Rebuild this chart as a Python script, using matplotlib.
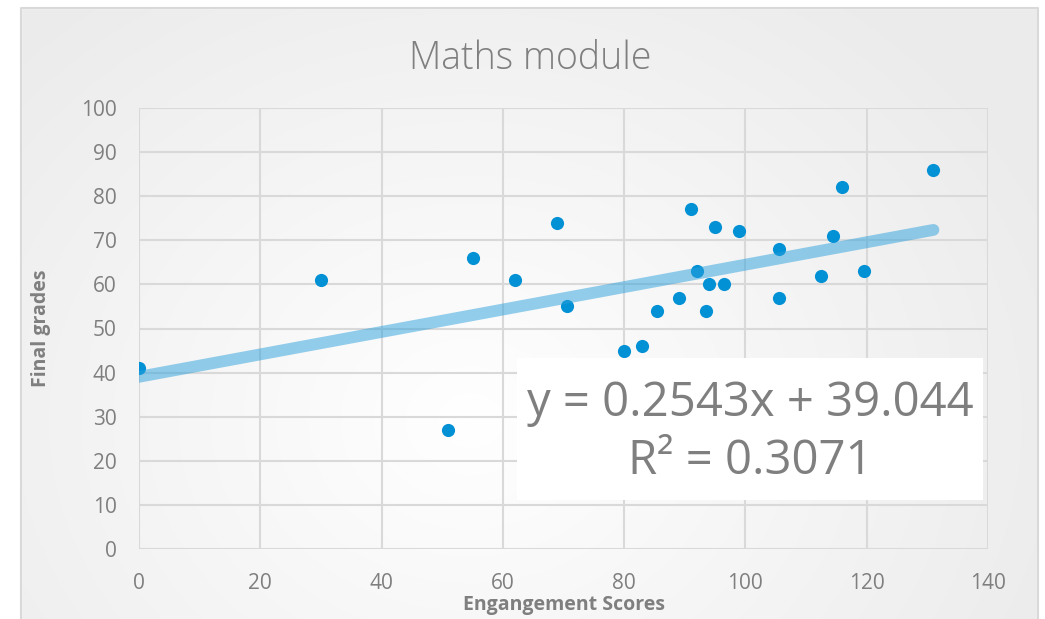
import numpy as np
import matplotlib
matplotlib.use("Agg")
import matplotlib.pyplot as plt
from matplotlib.patches import Rectangle

plt.rcParams['font.family'] = ['Open Sans', 'DejaVu Sans']

# data
engagement = [0, 30, 51, 55, 62, 69, 70.5, 80, 83, 85.5, 89, 91, 92, 93.5, 94, 95, 96.5, 99,
              105.5, 105.5, 112.5, 114.5, 116, 119.5, 131]
grades = [41, 61, 27, 66, 61, 74, 55, 45, 46, 54, 57, 77, 63, 54, 60, 73, 60, 72,
          68, 57, 62, 71, 82, 63, 86]
slope = 0.2543
intercept = 39.044
r_squared = 0.3071

title = "Maths module"
x_label = "Engangement Scores"
y_label = "Final grades"
x_ticks = [0, 20, 40, 60, 80, 100, 120, 140]
y_ticks = [0, 10, 20, 30, 40, 50, 60, 70, 80, 90, 100]

W, H = 1045, 619
grey_text = '#7f7f7f'
grid_col = '#d9d9d9'
dot_col = '#0391d5'

fig = plt.figure(figsize=(W / 100, H / 100), dpi=100)
fig.patch.set_facecolor('white')

# chart area background: soft radial gradient with thin border
bg = fig.add_axes([0, 0, 1, 1], zorder=-10)
bg.set_xlim(0, W)
bg.set_ylim(H, 0)
bg.axis('off')
yy, xx = np.mgrid[0:H, 0:W]
d = np.sqrt(((xx - 470) / 620.0) ** 2 + ((yy - 420) / 520.0) ** 2)
shade = 1.0 - 0.075 * np.clip(d, 0, 1)
img = np.dstack([shade, shade, shade])
bg.imshow(img, extent=[0, W, H, 0], aspect='auto')
bg.fill_between([0, 21], 0, H, color='white')
bg.fill_between([0, W], 0, 8, color='white')
bg.fill_between([1038, W], 0, H, color='white')
bg.plot([21, 21, 1038, 1038], [H, 8, 8, H], color=grid_col, lw=1.5)

ax = fig.add_axes([139 / W, 1 - 549 / H, (988 - 139) / W, (549 - 108) / H])
ax.patch.set_alpha(0)

ax.scatter(engagement, grades, s=90, color=dot_col, zorder=3, linewidths=0)
xs = np.array([min(engagement), max(engagement)])
ax.plot(xs, slope * xs + intercept, color='#2aa0dc', alpha=0.5, lw=8.5,
        solid_capstyle='round', zorder=4)

ax.set_xlim(0, 140)
ax.set_ylim(0, 100)
ax.set_xticks(x_ticks)
ax.set_yticks(y_ticks)
ax.grid(True, color=grid_col, lw=1.5, zorder=0)
for s in ax.spines.values():
    s.set_visible(False)
ax.tick_params(length=0, labelsize=15, labelcolor=grey_text)
ax.tick_params(axis='y', pad=16)
ax.tick_params(axis='x', pad=17)

fig.text(530 / W, 1 - 59 / H, title, ha='center', va='center', fontsize=27,
         fontweight='light', color=grey_text)
fig.text(41 / W, 1 - 328 / H, y_label, ha='center', va='center', rotation=90,
         fontsize=14, fontweight='bold', color=grey_text)
fig.text(564 / W, 1 - 605 / H, x_label, ha='center', va='center',
         fontsize=14, fontweight='bold', color=grey_text)

# trendline label box
ax.add_patch(Rectangle((517 / W, 1 - 500 / H), (983 - 517) / W, (500 - 358) / H,
                       transform=fig.transFigure, facecolor='white', edgecolor='none',
                       zorder=5, clip_on=False))
ax.text(750 / W, 1 - 432 / H,
        "y = {}x + {:.3f}\nR\u00b2 = {}".format(slope, intercept, r_squared),
        transform=fig.transFigure, ha='center', va='center', fontsize=34,
        color=grey_text, linespacing=1.3, zorder=6)

fig.savefig("out.png", dpi=100)
